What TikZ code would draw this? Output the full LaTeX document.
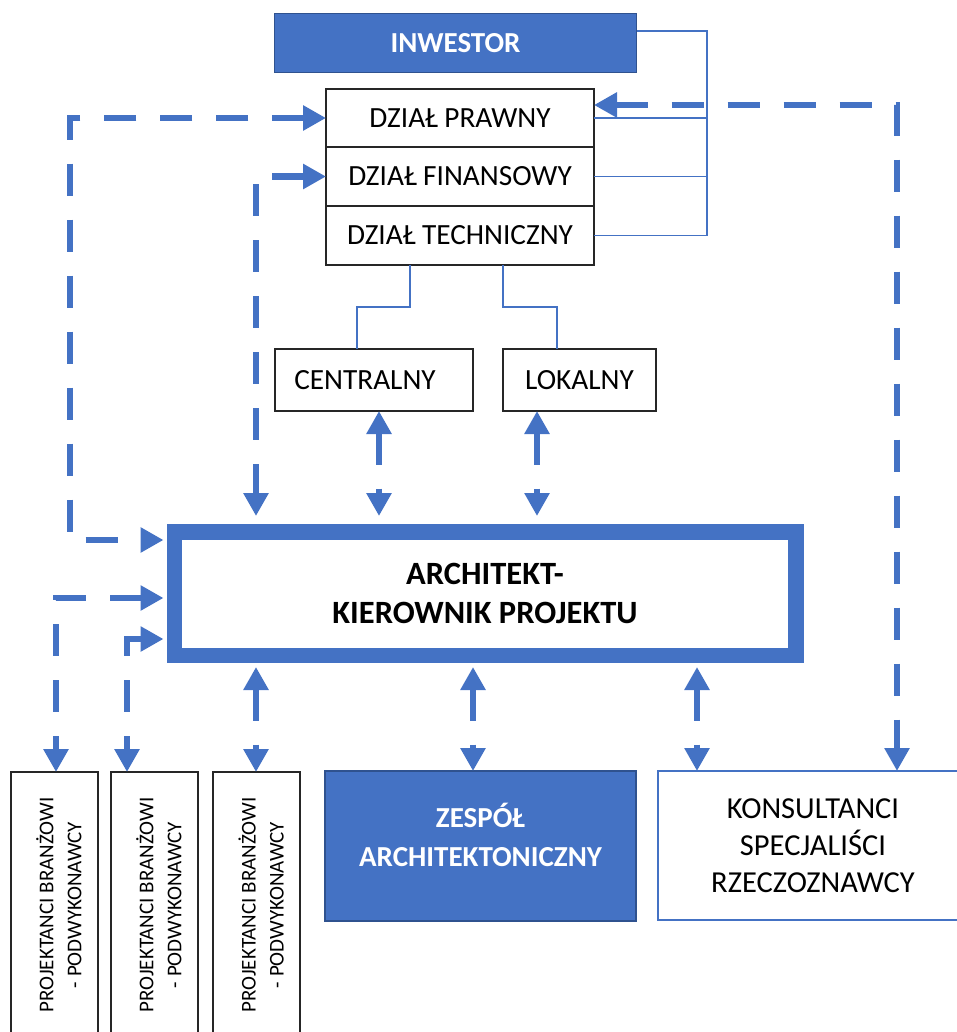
\documentclass[tikz,border=0pt]{standalone}
\usepackage{fontspec}
\setmainfont{Carlito}
\usetikzlibrary{arrows.meta}
\definecolor{accent}{HTML}{4472C4}
\definecolor{accentdark}{HTML}{2F528F}
\tikzset{
  plainbox/.style={draw=black!85, line width=1.4pt, fill=white, inner sep=0pt, outer sep=0pt,
    font=\fontsize{29.3}{37}\selectfont, align=center},
  bluebox/.style={draw=accentdark, line width=1.6pt, fill=accent, inner sep=0pt, outer sep=0pt,
    text=white, font=\bfseries\fontsize{29}{39}\selectfont, align=center},
  lbl/.style={inner sep=0pt, font=\fontsize{29.3}{37}\selectfont, align=center},
  boldlbl/.style={inner sep=0pt, font=\bfseries\fontsize{29}{39}\selectfont, align=center},
  rotlbl/.style={inner sep=0pt, rotate=90, font=\fontsize{21}{28}\selectfont, align=center},
  link/.style={draw=accent, line width=1.3pt},
  flow/.style={draw=accent, line width=6.5pt, dash pattern=on 32pt off 24pt,
    {Triangle[width=24pt,length=23pt]}-{Triangle[width=24pt,length=23pt]}},
}
\begin{document}
\begin{tikzpicture}[x=1pt, y=-1pt]
\useasboundingbox (0,0) rectangle (956,1032);

% investor and its departments
\node[bluebox, minimum width=362pt, minimum height=59pt] (inv) at (455.5,43) {INWESTOR};
\node[plainbox, minimum width=268pt, minimum height=58pt] (prawny) at (460,118) {DZIAŁ PRAWNY};
\node[plainbox, minimum width=268pt, minimum height=59pt] (finansowy) at (460,176.5) {DZIAŁ FINANSOWY};
\node[plainbox, minimum width=268pt, minimum height=59pt] (techniczny) at (460,235.5) {DZIAŁ TECHNICZNY};

% technical branches
\node[plainbox, minimum width=198pt, minimum height=62pt] (centralny) at (374,380) {};
\node[lbl] (centralnyT) at (365,380) {CENTRALNY};
\node[plainbox, minimum width=153pt, minimum height=62pt] (lokalny) at (579.5,380) {LOKALNY};

% project manager
\node[draw=accent, line width=15.5pt, fill=white, outer sep=7.75pt, inner sep=0pt,
      minimum width=621.5pt, minimum height=123.5pt,
      font=\bfseries\fontsize{32.5}{39}\selectfont, align=center]
      (arch) at (485,593.5) {ARCHITEKT-\\KIEROWNIK PROJEKTU};

% subcontractors
\node[plainbox, minimum width=87pt, minimum height=290pt, anchor=north] (b1) at (54.5,772) {};
\node[plainbox, minimum width=87pt, minimum height=290pt, anchor=north] (b2) at (154.5,772) {};
\node[plainbox, minimum width=87pt, minimum height=290pt, anchor=north] (b3) at (256.5,772) {};
\node[rotlbl] (b1t) at (59,905) {PROJEKTANCI BRANŻOWI\\- PODWYKONAWCY};
\node[rotlbl] (b2t) at (159,905) {PROJEKTANCI BRANŻOWI\\- PODWYKONAWCY};
\node[rotlbl] (b3t) at (261,905) {PROJEKTANCI BRANŻOWI\\- PODWYKONAWCY};

% architectural team and consultants
\node[bluebox, minimum width=311pt, minimum height=150pt] (zespol) at (480.5,846) {};
\node[boldlbl, text=white] (zespolT) at (480.5,835) {ZESPÓŁ\\ARCHITEKTONICZNY};
\node[draw=accent, line width=1.6pt, fill=white, inner sep=0pt, outer sep=0pt,
      minimum width=302pt, minimum height=149pt, anchor=north west] (konsult) at (658,771) {};
\node[lbl, font=\fontsize{30.5}{37}\selectfont] (konsultT) at (813,846) {KONSULTANCI\\SPECJALIŚCI\\RZECZOZNAWCY};

% thin organisational links
\draw[link] (inv.east |- 0,31) -| (techniczny.east -| 707,0) -- (techniczny.east);
\draw[link] (prawny.east) -- (prawny.east -| 707,0);
\draw[link] (finansowy.east) -- (finansowy.east -| 707,0);
\draw[link] (techniczny.south -| 410,0) -- (410,307) -| (centralny.north -| 357,0);
\draw[link] (techniczny.south -| 503,0) -- (503,307) -| (lokalny.north -| 557,0);

% information flows
\draw[flow, shorten >=3pt] (prawny.west) -| (70,540) -- (arch.west |- 0,540);
\draw[flow, shorten >=8pt] (finansowy.west) -| (arch.north -| 256,0);
\draw[flow, shorten >=8pt] (centralny.south -| 379,0) -- (arch.north -| 379,0);
\draw[flow, shorten >=8pt] (lokalny.south -| 537,0) -- (arch.north -| 537,0);
\draw[flow] (prawny.east |- 0,105) -| (konsult.north -| 897,0);
\draw[flow, shorten <=3pt] (arch.west |- 0,598) -| (b1.north -| 56,0);
\draw[flow, shorten <=3pt] (arch.west |- 0,639) -| (b2.north -| 127,0);
\draw[flow, shorten <=4pt] (arch.south -| 256,0) -- (b3.north -| 256,0);
\draw[flow, shorten <=4pt] (arch.south -| 473,0) -- (zespol.north -| 473,0);
\draw[flow, shorten <=4pt] (arch.south -| 697,0) -- (konsult.north -| 697,0);
\end{tikzpicture}
\end{document}
